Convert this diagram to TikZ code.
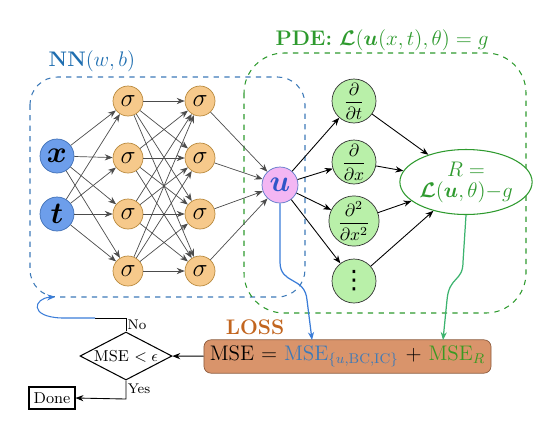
\documentclass[tikz,border=0pt]{standalone}
\usepackage{amsmath,bm}
\usepackage{fontspec}
\newfontfamily\symfont{DejaVu Sans}
\usetikzlibrary{shapes.geometric,arrows.meta}
\definecolor{inblue}{HTML}{6D9EEB}
\definecolor{inedge}{HTML}{3F6FB5}
\definecolor{sigfill}{HTML}{F6C98B}
\definecolor{sigedge}{HTML}{B98A3E}
\definecolor{ufill}{HTML}{F3B6F3}
\definecolor{uedge}{HTML}{5B78C8}
\definecolor{utext}{HTML}{2F55C8}
\definecolor{pdefill}{HTML}{B9F0A9}
\definecolor{rgreen}{HTML}{2E9A2E}
\definecolor{nnblue}{HTML}{3D7AB8}
\definecolor{nnlabel}{HTML}{1F6EB0}
\definecolor{lossfill}{HTML}{D9946B}
\definecolor{lossedge}{HTML}{8C5A3C}
\definecolor{losslabel}{HTML}{C2651F}
\definecolor{curveblue}{HTML}{3B7DD8}
\definecolor{curvegreen}{HTML}{3CB36E}
\definecolor{msegreen}{HTML}{3A9A22}
\begin{document}
\begin{tikzpicture}[x=0.02cm,y=-0.02cm,
  >={Stealth[length=4.5pt,width=3.5pt]},
  input/.style={circle,draw=inedge,fill=inblue,minimum size=0.68cm,inner sep=0pt,font=\LARGE},
  neuron/.style={circle,draw=sigedge,fill=sigfill,minimum size=0.6cm,inner sep=0pt,font=\Large},
  deriv/.style={circle,draw=black!80,fill=pdefill,minimum size=0.88cm,inner sep=0pt},
  wire/.style={->,black!70,line width=0.4pt},
  flow/.style={->,black,line width=0.5pt}]
  \useasboundingbox (0,0) rectangle (553,430);
  % Dashed frames
  \draw[nnblue,dashed,line width=0.6pt,rounded corners=0.55cm] (30,77) rectangle (305,297);
  \draw[rgreen,dashed,line width=0.6pt,rounded corners=0.8cm] (244,53) rectangle (526,313);
  \node[text=nnlabel,font=\large] (nnlab) at (92,61) {\textbf{NN}$(w,b)$};
  \node[text=rgreen,font=\large] (pdelab) at (382,40) {\textbf{PDE:} $\bm{\mathcal{L}}(\bm{u}(x,t),\theta)=g$};
  % Inputs
  \node[input] (x) at (57,156) {$\bm{x}$};
  \node[input] (t) at (57,214) {$\bm{t}$};
  % Hidden layer 1
  \node[neuron] (a1) at (128,101) {$\sigma$};
  \node[neuron] (a2) at (128,158) {$\sigma$};
  \node[neuron] (a3) at (128,214) {$\sigma$};
  \node[neuron] (a4) at (128,271) {$\sigma$};
  % Hidden layer 2
  \node[neuron] (b1) at (200,101) {$\sigma$};
  \node[neuron] (b2) at (200,158) {$\sigma$};
  \node[neuron] (b3) at (200,214) {$\sigma$};
  \node[neuron] (b4) at (200,271) {$\sigma$};
  % Output
  \node[circle,draw=uedge,fill=ufill,minimum size=0.72cm,inner sep=0pt,font=\LARGE,text=utext] (u) at (280,185) {$\bm{u}$};
  % Derivatives
  \node[deriv] (dt) at (354,101) {$\dfrac{\partial}{\partial t}$};
  \node[deriv] (dx) at (354,162) {$\dfrac{\partial}{\partial x}$};
  \node[deriv] (dxx) at (354,221) {$\dfrac{\partial^2}{\partial x^2}$};
  \node[deriv,font=\Large\symfont] (dots) at (354,281) {⋮};
  % Residual
  \node[ellipse,draw=rgreen,fill=white,line width=0.6pt,minimum width=2.1cm,minimum height=1.3cm,inner sep=0pt,align=center,text=rgreen,font=\large] (R) at (466,182) {$R=$\\[-2pt]$\bm{\mathcal{L}}(\bm{u},\theta){-}g$};
  % Network connections
  \draw[wire] (x) edge (a1) edge (a2) edge (a3) edge (a4);
  \draw[wire] (t) edge (a1) edge (a2) edge (a3) edge (a4);
  \draw[wire] (a1) edge (b1) edge (b2) edge (b3) edge (b4);
  \draw[wire] (a2) edge (b1) edge (b2) edge (b3) edge (b4);
  \draw[wire] (a3) edge (b1) edge (b2) edge (b3) edge (b4);
  \draw[wire] (a4) edge (b1) edge (b2) edge (b3) edge (b4);
  \draw[wire] (b1) edge (u) (b2) edge (u) (b3) edge (u) (b4) edge (u);
  \draw[flow] (u) edge (dt) edge (dx) edge (dxx) edge (dots);
  \draw[flow] (dt) edge (R) (dx) edge (R) (dxx) edge (R) (dots) edge (R);
  % Loss
  \node[text=losslabel,font=\large\bfseries] (losslab) at (255,327) {LOSS};
  \node[draw=lossedge,fill=lossfill,rounded corners=4pt,minimum width=5.02cm,minimum height=0.66cm,font=\large] (loss) at (347.5,356.5)
    {MSE $=$ \textcolor{nnblue}{MSE$_{\{u,\mathrm{BC},\mathrm{IC}\}}$} $+$ \textcolor{msegreen}{MSE$_R$}};
  \coordinate (lossu) at (312,340);
  \coordinate (lossr) at (443,340);
  \draw[->,curveblue,line width=0.7pt] (u.south) -- (280,262) .. controls (280,285) and (305,276) .. (307,300) -- (lossu);
  \draw[->,curvegreen,line width=0.7pt] (R.south) -- (463,262) .. controls (463,282) and (449,276) .. (447,300) -- (lossr);
  % Stopping test
  \node[diamond,draw,line width=0.6pt,aspect=2,inner sep=0pt,minimum width=1.84cm,minimum height=0.96cm,font=\small] (test) at (126,356) {MSE $<\epsilon$};
  \node[draw,line width=0.6pt,minimum width=0.92cm,minimum height=0.44cm,inner sep=1pt,font=\small] (done) at (52,398) {Done};
  \coordinate (nnback) at (55,297);
  \draw[flow] (loss) -- (test);
  \draw[flow] (test.south) -- (126,399) -- (done.east);
  \node[font=\footnotesize] (yes) at (139,389) {Yes};
  \node[font=\footnotesize] (no) at (137,325) {No};
  \draw[black,line width=0.5pt] (test.north) -- (126,318) -- (95,318);
  \draw[->,curveblue,line width=0.6pt] (95,318) -- (62,318) .. controls (28,317) and (34,298) .. (nnback);
\end{tikzpicture}
\end{document}
